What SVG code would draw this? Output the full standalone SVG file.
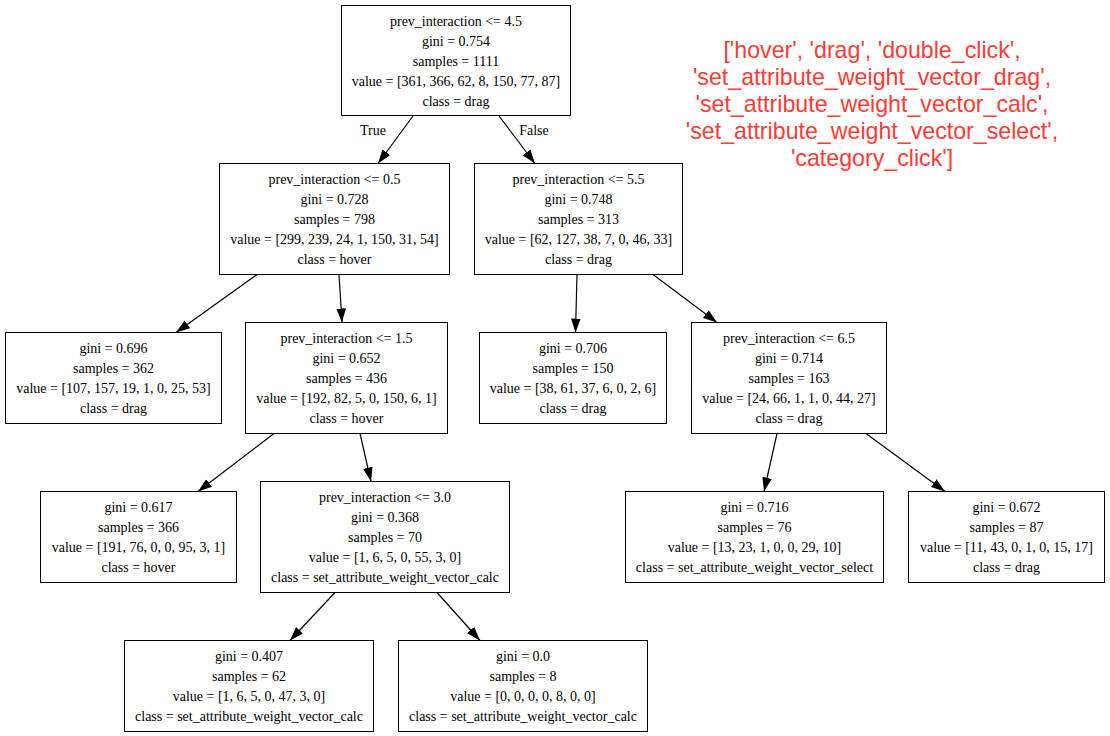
<svg xmlns="http://www.w3.org/2000/svg" width="1110" height="736" viewBox="0 0 1110 736">
<style>
.box{fill:#fff;stroke:#000;stroke-width:1}
.t{font-family:"Liberation Serif","Times New Roman",serif;font-size:14px;fill:#000;text-anchor:middle}
.e{stroke:#000;stroke-width:1.2;fill:none;marker-end:url(#arr)}
.legend{font-family:"Liberation Sans",Arial,sans-serif;font-size:23.2px;fill:#ff3b35;text-anchor:middle}
</style>
<defs>
<marker id="arr" markerUnits="userSpaceOnUse" markerWidth="15" markerHeight="11" refX="14" refY="5" orient="auto">
<path d="M0,0.2 L14,5 L0,9.8 Z" fill="#000" stroke="none"/>
</marker>
</defs>
<rect x="0" y="0" width="1110" height="736" fill="#fff"/>

<g id="connectors">
<line class="e" x1="413" y1="116" x2="378" y2="163.5"/>
<line class="e" x1="499" y1="116" x2="535" y2="163.5"/>
<line class="e" x1="257" y1="274.5" x2="176" y2="332.5"/>
<line class="e" x1="339" y1="274.5" x2="342" y2="322.5"/>
<line class="e" x1="577" y1="274.5" x2="575.5" y2="332.5"/>
<line class="e" x1="653" y1="274.5" x2="717" y2="322.5"/>
<line class="e" x1="274" y1="433.5" x2="198" y2="491.5"/>
<line class="e" x1="360" y1="433.5" x2="371" y2="481.5"/>
<line class="e" x1="777" y1="433.5" x2="764" y2="491.5"/>
<line class="e" x1="866" y1="433.5" x2="945" y2="491.5"/>
<line class="e" x1="335" y1="592.5" x2="290" y2="640.5"/>
<line class="e" x1="437" y1="592.5" x2="480" y2="640.5"/>
<text class="t" x="373" y="134.5">True</text>
<text class="t" x="534" y="134.5">False</text>
</g>

<g id="n0">
<rect class="box" x="341.5" y="5.5" width="229" height="110"/>
<text class="t" x="456" y="25.5">prev_interaction &lt;= 4.5</text>
<text class="t" x="456" y="45.5">gini = 0.754</text>
<text class="t" x="456" y="65.5">samples = 1111</text>
<text class="t" x="456" y="85.5">value = [361, 366, 62, 8, 150, 77, 87]</text>
<text class="t" x="456" y="105.5">class = drag</text>
</g>

<g id="n1">
<rect class="box" x="219.5" y="163.5" width="230" height="111"/>
<text class="t" x="334.5" y="184">prev_interaction &lt;= 0.5</text>
<text class="t" x="334.5" y="204">gini = 0.728</text>
<text class="t" x="334.5" y="224">samples = 798</text>
<text class="t" x="334.5" y="244">value = [299, 239, 24, 1, 150, 31, 54]</text>
<text class="t" x="334.5" y="264">class = hover</text>
</g>

<g id="n2">
<rect class="box" x="474.5" y="163.5" width="208" height="111"/>
<text class="t" x="578.5" y="184">prev_interaction &lt;= 5.5</text>
<text class="t" x="578.5" y="204">gini = 0.748</text>
<text class="t" x="578.5" y="224">samples = 313</text>
<text class="t" x="578.5" y="244">value = [62, 127, 38, 7, 0, 46, 33]</text>
<text class="t" x="578.5" y="264">class = drag</text>
</g>

<g id="n3">
<rect class="box" x="5.5" y="332.5" width="216" height="91"/>
<text class="t" x="113.5" y="353">gini = 0.696</text>
<text class="t" x="113.5" y="373">samples = 362</text>
<text class="t" x="113.5" y="393">value = [107, 157, 19, 1, 0, 25, 53]</text>
<text class="t" x="113.5" y="413">class = drag</text>
</g>

<g id="n4">
<rect class="box" x="245.5" y="322.5" width="202" height="111"/>
<text class="t" x="346.5" y="343">prev_interaction &lt;= 1.5</text>
<text class="t" x="346.5" y="363">gini = 0.652</text>
<text class="t" x="346.5" y="383">samples = 436</text>
<text class="t" x="346.5" y="403">value = [192, 82, 5, 0, 150, 6, 1]</text>
<text class="t" x="346.5" y="423">class = hover</text>
</g>

<g id="n5">
<rect class="box" x="479.5" y="332.5" width="187" height="91"/>
<text class="t" x="573" y="353">gini = 0.706</text>
<text class="t" x="573" y="373">samples = 150</text>
<text class="t" x="573" y="393">value = [38, 61, 37, 6, 0, 2, 6]</text>
<text class="t" x="573" y="413">class = drag</text>
</g>

<g id="n6">
<rect class="box" x="691.5" y="322.5" width="195" height="111"/>
<text class="t" x="789" y="343">prev_interaction &lt;= 6.5</text>
<text class="t" x="789" y="363">gini = 0.714</text>
<text class="t" x="789" y="383">samples = 163</text>
<text class="t" x="789" y="403">value = [24, 66, 1, 1, 0, 44, 27]</text>
<text class="t" x="789" y="423">class = drag</text>
</g>

<g id="n7">
<rect class="box" x="40.5" y="491.5" width="196" height="91"/>
<text class="t" x="138.5" y="512">gini = 0.617</text>
<text class="t" x="138.5" y="532">samples = 366</text>
<text class="t" x="138.5" y="552">value = [191, 76, 0, 0, 95, 3, 1]</text>
<text class="t" x="138.5" y="572">class = hover</text>
</g>

<g id="n8">
<rect class="box" x="260.5" y="481.5" width="249" height="111"/>
<text class="t" x="385" y="502">prev_interaction &lt;= 3.0</text>
<text class="t" x="385" y="522">gini = 0.368</text>
<text class="t" x="385" y="542">samples = 70</text>
<text class="t" x="385" y="562">value = [1, 6, 5, 0, 55, 3, 0]</text>
<text class="t" x="385" y="582">class = set_attribute_weight_vector_calc</text>
</g>

<g id="n9">
<rect class="box" x="625.5" y="491.5" width="258" height="91"/>
<text class="t" x="754.5" y="512">gini = 0.716</text>
<text class="t" x="754.5" y="532">samples = 76</text>
<text class="t" x="754.5" y="552">value = [13, 23, 1, 0, 0, 29, 10]</text>
<text class="t" x="754.5" y="572">class = set_attribute_weight_vector_select</text>
</g>

<g id="n10">
<rect class="box" x="908.5" y="491.5" width="196" height="91"/>
<text class="t" x="1006.5" y="512">gini = 0.672</text>
<text class="t" x="1006.5" y="532">samples = 87</text>
<text class="t" x="1006.5" y="552">value = [11, 43, 0, 1, 0, 15, 17]</text>
<text class="t" x="1006.5" y="572">class = drag</text>
</g>

<g id="n11">
<rect class="box" x="124.5" y="640.5" width="249" height="91"/>
<text class="t" x="249" y="660.5">gini = 0.407</text>
<text class="t" x="249" y="680.5">samples = 62</text>
<text class="t" x="249" y="700.5">value = [1, 6, 5, 0, 47, 3, 0]</text>
<text class="t" x="249" y="720.5">class = set_attribute_weight_vector_calc</text>
</g>

<g id="n12">
<rect class="box" x="398.5" y="640.5" width="249" height="91"/>
<text class="t" x="523" y="660.5">gini = 0.0</text>
<text class="t" x="523" y="680.5">samples = 8</text>
<text class="t" x="523" y="700.5">value = [0, 0, 0, 0, 8, 0, 0]</text>
<text class="t" x="523" y="720.5">class = set_attribute_weight_vector_calc</text>
</g>

<g id="legend">
<text class="legend" x="872" y="58">['hover', 'drag', 'double_click',</text>
<text class="legend" x="872" y="85">'set_attribute_weight_vector_drag',</text>
<text class="legend" x="872" y="112">'set_attribute_weight_vector_calc',</text>
<text class="legend" x="872" y="139">'set_attribute_weight_vector_select',</text>
<text class="legend" x="872" y="166">'category_click']</text>
</g>
</svg>
